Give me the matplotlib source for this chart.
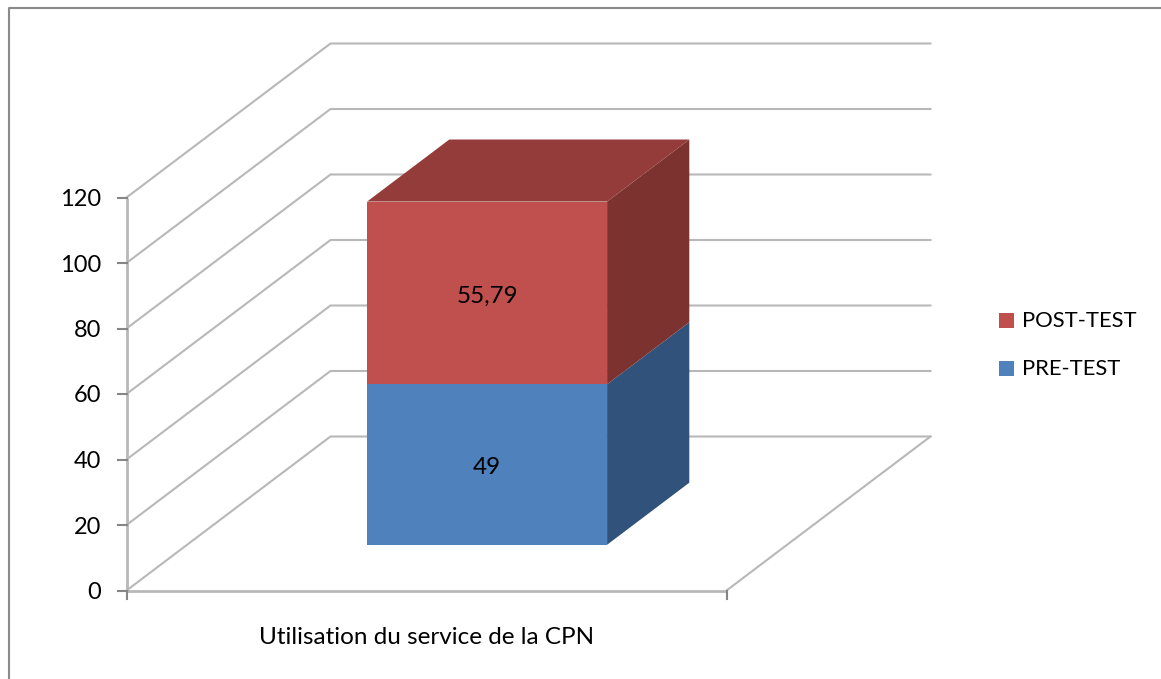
import matplotlib
matplotlib.use('Agg')
import matplotlib.pyplot as plt
from matplotlib.patches import Polygon, Rectangle

category = 'Utilisation du service de la CPN'
series_names = ['PRE-TEST', 'POST-TEST']
series_values = [49, 55.79]
series_labels = ['49', '55,79']
y_ticks = [0, 20, 40, 60, 80, 100, 120]

front_colors = ['#4f81bd', '#c0504d']
side_colors = ['#31527a', '#7c322f']
top_color = '#943c39'
grid_color = '#b8b8b8'
tick_color = '#868686'
font = 'Lato'

# pixel geometry of the oblique 3D box
X0, Y0 = 126.5, 590.5
WIDTH = 600
PX_PER_UNIT = 3.275
DEPTH_X, DEPTH_Y = 204, 154


def proj(c, value, d):
    """category fraction, value, depth fraction -> pixel position"""
    return (X0 + WIDTH * c + DEPTH_X * d, Y0 - PX_PER_UNIT * value - DEPTH_Y * d)


fig = plt.figure(figsize=(11.61, 6.79), dpi=100)
ax = fig.add_axes([0, 0, 1, 1])
ax.set_xlim(0, 1161)
ax.set_ylim(679, 0)
ax.axis('off')

# outer chart border (left and top only are visible)
ax.plot([9, 9, 1161], [679, 8, 8], color='#8a8a8a', lw=1.5, zorder=1)

# walls and gridlines
for v in y_ticks:
    pts = [proj(0, v, 0), proj(0, v, 1), proj(1, v, 1)]
    ax.plot([p[0] for p in pts], [p[1] for p in pts], color=grid_color, lw=1.5,
            solid_joinstyle='miter', zorder=2)
    x, y = proj(0, v, 0)
    ax.plot([x - 9, x], [y, y], color=tick_color, lw=1.5, zorder=3)
    ax.text(x - 25, y + 2, str(v), ha='right', va='center', fontsize=17,
            family=font, color='black')

# left wall edge, floor front and right edges
pts = [proj(0, 120, 0), proj(0, 0, 0), proj(1, 0, 0), proj(1, 0, 1)]
ax.plot([p[0] for p in pts[:3]], [p[1] for p in pts[:3]], color=grid_color, lw=2,
        solid_capstyle='butt', zorder=2)
ax.plot([pts[2][0], pts[3][0]], [pts[2][1], pts[3][1]], color=grid_color, lw=1.5, zorder=2)
for c in [0, 1]:
    x, y = proj(c, 0, 0)
    ax.plot([x, x], [y, y + 8], color=tick_color, lw=1.5, zorder=3)

# stacked 3D bar
c0, c1, d0, d1 = 0.3, 0.7, 0.297, 0.7
base = 0
for i, val in enumerate(series_values):
    top = base + val
    front = [proj(c0, base, d0), proj(c1, base, d0), proj(c1, top, d0), proj(c0, top, d0)]
    side = [proj(c1, base, d0), proj(c1, base, d1), proj(c1, top, d1), proj(c1, top, d0)]
    ax.add_patch(Polygon(side, closed=True, fc=side_colors[i], ec='none', zorder=4))
    ax.add_patch(Polygon(front, closed=True, fc=front_colors[i], ec='none', zorder=5))
    cx, cy = proj((c0 + c1) / 2, base + val / 2, d0)
    ax.text(cx, cy + 3, series_labels[i], ha='center', va='center', fontsize=17.5,
            family=font, color='black', zorder=6)
    base = top
cap = [proj(c0, base, d0), proj(c1, base, d0), proj(c1, base, d1), proj(c0, base, d1)]
ax.add_patch(Polygon(cap, closed=True, fc=top_color, ec='none', zorder=4))

# category label
ax.text(427, 637, category, ha='center', va='center', fontsize=17.5, family=font, color='black')

# legend
for name, color, y in zip(series_names[::-1], front_colors[::-1], [320, 368]):
    ax.add_patch(Rectangle((999, y - 7.5), 15, 15, fc=color, ec='none'))
    ax.text(1022, y + 1, name, ha='left', va='center', fontsize=15.8, family=font, color='black')

fig.savefig('out.png', dpi=100)
